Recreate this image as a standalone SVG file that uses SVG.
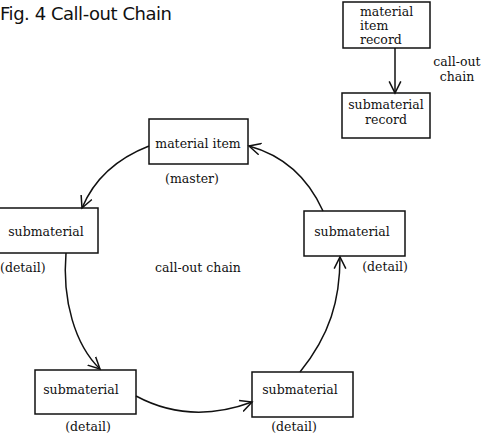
<svg xmlns="http://www.w3.org/2000/svg" width="486" height="440" viewBox="0 0 486 440">
<style>
.box{fill:#fff;stroke:#111;stroke-width:1.5}
.t{font-family:"DejaVu Serif","Liberation Serif",serif;font-size:12.5px;fill:#111}
.c{stroke:#111;stroke-width:1.5;fill:none;marker-end:url(#ah)}
.title{font-family:"DejaVu Sans","Liberation Sans",sans-serif;font-size:18px;fill:#111}
</style>
<defs>
<marker id="ah" markerUnits="userSpaceOnUse" markerWidth="14" markerHeight="14" refX="10" refY="5" orient="auto" viewBox="0 0 12 10">
<path d="M0,0 L10,5 L0,10" fill="none" stroke="#111" stroke-width="1.3"/>
</marker>
</defs>
<rect width="486" height="440" fill="#fff"/>
<text class="title" x="0" y="20" textLength="172" lengthAdjust="spacing">Fig. 4 Call-out Chain</text>

<g id="legend-material-item-record">
<rect class="box" x="343" y="2" width="87" height="46"/>
<text class="t" x="360" y="16">material</text>
<text class="t" x="360" y="30">item</text>
<text class="t" x="360" y="44">record</text>
</g>
<g id="legend-submaterial-record">
<rect class="box" x="342" y="93" width="88" height="45"/>
<text class="t" x="386" y="109" text-anchor="middle">submaterial</text>
<text class="t" x="386" y="124" text-anchor="middle">record</text>
</g>
<text class="t" x="457" y="66" text-anchor="middle">call-out</text>
<text class="t" x="457" y="81" text-anchor="middle">chain</text>

<g id="material-item">
<rect class="box" x="149" y="119" width="99" height="45"/>
<text class="t" x="198" y="148" text-anchor="middle">material item</text>
<text class="t" x="192" y="183" text-anchor="middle">(master)</text>
</g>
<g id="sub-left">
<rect class="box" x="-2" y="208" width="100" height="45"/>
<text class="t" x="46" y="236" text-anchor="middle">submaterial</text>
<text class="t" x="0" y="272">(detail)</text>
</g>
<g id="sub-right">
<rect class="box" x="304" y="211" width="101" height="45"/>
<text class="t" x="352" y="236" text-anchor="middle">submaterial</text>
<text class="t" x="385" y="271" text-anchor="middle">(detail)</text>
</g>
<g id="sub-bottom-left">
<rect class="box" x="35" y="370" width="101" height="44"/>
<text class="t" x="81" y="394" text-anchor="middle">submaterial</text>
<text class="t" x="88" y="431" text-anchor="middle">(detail)</text>
</g>
<g id="sub-bottom-right">
<rect class="box" x="252" y="372" width="101" height="45"/>
<text class="t" x="300" y="394" text-anchor="middle">submaterial</text>
<text class="t" x="294" y="431" text-anchor="middle">(detail)</text>
</g>
<text class="t" x="198" y="272" text-anchor="middle">call-out chain</text>

<g id="connectors">
<path class="c" d="M395,48 L395,93"/>
<path class="c" d="M149,146 Q100,165 82,208"/>
<path class="c" d="M66,253 C62,300 75,345 100,369"/>
<path class="c" d="M136,396 Q190,425 252,402"/>
<path class="c" d="M300,372 C330,335 340,300 340,257"/>
<path class="c" d="M323,211 Q300,160 249,146"/>
</g>
</svg>
